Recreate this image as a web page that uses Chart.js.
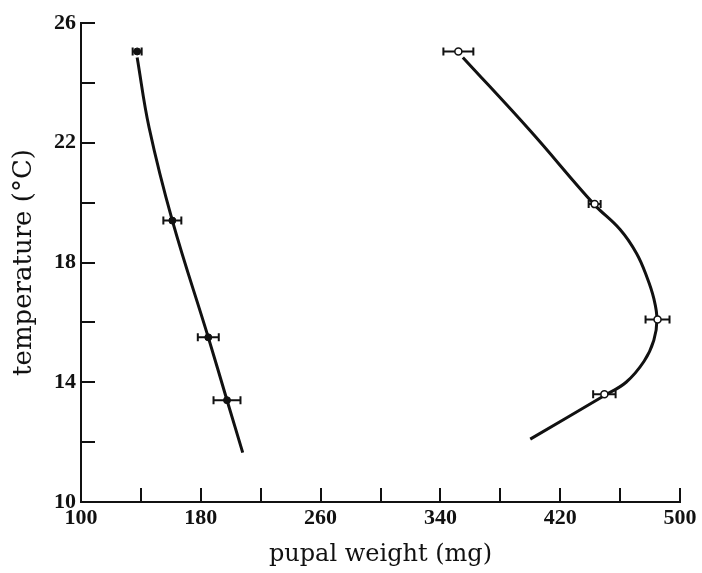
<!DOCTYPE html>
<html>
<head>
<meta charset="utf-8">
<script src="https://cdn.jsdelivr.net/npm/chart.js@4/dist/chart.umd.min.js"></script>
<style>
  html, body { margin: 0; padding: 0; background: #fff; }
  #wrap { width: 702px; height: 573px; }
</style>
</head>
<body>
<div id="wrap"><canvas id="chart"></canvas></div>
<script>
// Série à points pleins (à gauche)
const lowWeight = [137.5, 161, 185, 197.5];
const lowTemp = [25.05, 19.4, 15.5, 13.4];
const lowErr = [3, 6, 7, 9];

// Série à points ouverts (à droite)
const highWeight = [352, 443, 485, 449.5];
const highTemp = [25.05, 19.95, 16.1, 13.6];
const highErr = [10, 4, 8, 7.5];

// Courbes tracées à la main, relevées le long du trait
const lowCurveWeight = [137.5, 145.5, 161, 185, 197.5, 208];
const lowCurveTemp = [24.85, 22.5, 19.4, 15.5, 13.4, 11.65];
const highCurveWeight = [355, 400, 442.5, 460, 471, 478, 482.5, 484.6, 482.5, 476, 464, 449.3, 400];
const highCurveTemp = [24.85, 22.4, 19.95, 19.1, 18.3, 17.5, 16.8, 16.1, 15.4, 14.7, 14.0, 13.55, 12.1];

// Axes
const xLabels = [100, 180, 260, 340, 420, 500];
const yLabels = [10, 14, 18, 22, 26];

const toPoints = (xs, ys) => xs.map((v, i) => ({ x: v, y: ys[i] }));

const ink = '#111';

// barres d'erreur horizontales
const errorBars = {
    id: 'errorBars',
    beforeDatasetsDraw(chart) {
        const { ctx, scales: { x, y } } = chart;
        ctx.save();
        ctx.strokeStyle = ink;
        ctx.lineWidth = 2;
        chart.data.datasets.forEach(ds => {
            if (!ds.errors) return;
            ds.data.forEach((p, j) => {
                const py = y.getPixelForValue(p.y);
                const x0 = x.getPixelForValue(p.x - ds.errors[j]);
                const x1 = x.getPixelForValue(p.x + ds.errors[j]);
                ctx.beginPath();
                ctx.moveTo(x0, py); ctx.lineTo(x1, py);
                ctx.moveTo(x0, py - 4); ctx.lineTo(x0, py + 4);
                ctx.moveTo(x1, py - 4); ctx.lineTo(x1, py + 4);
                ctx.stroke();
            });
        });
        ctx.restore();
    }
};

const tickFont = { family: "'Liberation Serif', serif", size: 22, weight: 'bold' };

new Chart(document.getElementById('chart'), {
    type: 'scatter',
    data: {
        datasets: [
            {
                data: toPoints(lowWeight, lowTemp),
                errors: lowErr,
                pointRadius: 3.5,
                pointBackgroundColor: ink,
                pointBorderColor: ink,
                pointBorderWidth: 1,
                showLine: false
            },
            {
                data: toPoints(highWeight, highTemp),
                errors: highErr,
                pointRadius: 3.5,
                pointBackgroundColor: '#fff',
                pointBorderColor: ink,
                pointBorderWidth: 1.5,
                showLine: false
            },
            {
                data: toPoints(lowCurveWeight, lowCurveTemp),
                showLine: true,
                borderColor: ink,
                borderWidth: 3,
                pointRadius: 0,
                tension: 0.4
            },
            {
                data: toPoints(highCurveWeight, highCurveTemp),
                showLine: true,
                borderColor: ink,
                borderWidth: 3,
                pointRadius: 0,
                tension: 0.4
            }
        ]
    },
    options: {
        responsive: true,
        maintainAspectRatio: false,
        animation: false,
        layout: { padding: { top: 23, right: 22, left: 0, bottom: 0 } },
        plugins: { legend: { display: false }, tooltip: { enabled: false } },
        scales: {
            x: {
                type: 'linear',
                min: 100,
                max: 500,
                afterFit: s => { s.height = 71; s.paddingLeft = 0; s.paddingRight = 0; },
                border: { display: true, color: ink, width: 2 },
                grid: { drawOnChartArea: false, drawTicks: true, tickLength: -14, color: ink, lineWidth: 2 },
                ticks: {
                    stepSize: 40,
                    autoSkip: false,
                    maxRotation: 0,
                    padding: 17,
                    color: ink,
                    font: tickFont,
                    callback: v => xLabels.includes(v) ? String(v) : ''
                },
                title: {
                    display: true,
                    text: 'pupal weight (mg)',
                    color: ink,
                    font: { family: "'DejaVu Serif', serif", size: 24 },
                    padding: { top: 6 }
                }
            },
            y: {
                type: 'linear',
                min: 10,
                max: 26,
                afterFit: s => { s.width = 81; s.paddingTop = 0; s.paddingBottom = 0; },
                border: { display: true, color: ink, width: 2 },
                grid: { drawOnChartArea: false, drawTicks: true, tickLength: -14, color: ink, lineWidth: 2 },
                ticks: {
                    stepSize: 2,
                    autoSkip: false,
                    padding: 19,
                    color: ink,
                    font: tickFont,
                    callback: v => yLabels.includes(v) ? String(v) : ''
                },
                title: {
                    display: true,
                    text: 'temperature (°C)',
                    color: ink,
                    font: { family: "'DejaVu Serif', serif", size: 26 },
                    padding: { top: 9 }
                }
            }
        }
    },
    plugins: [errorBars]
});
</script>
</body>
</html>
